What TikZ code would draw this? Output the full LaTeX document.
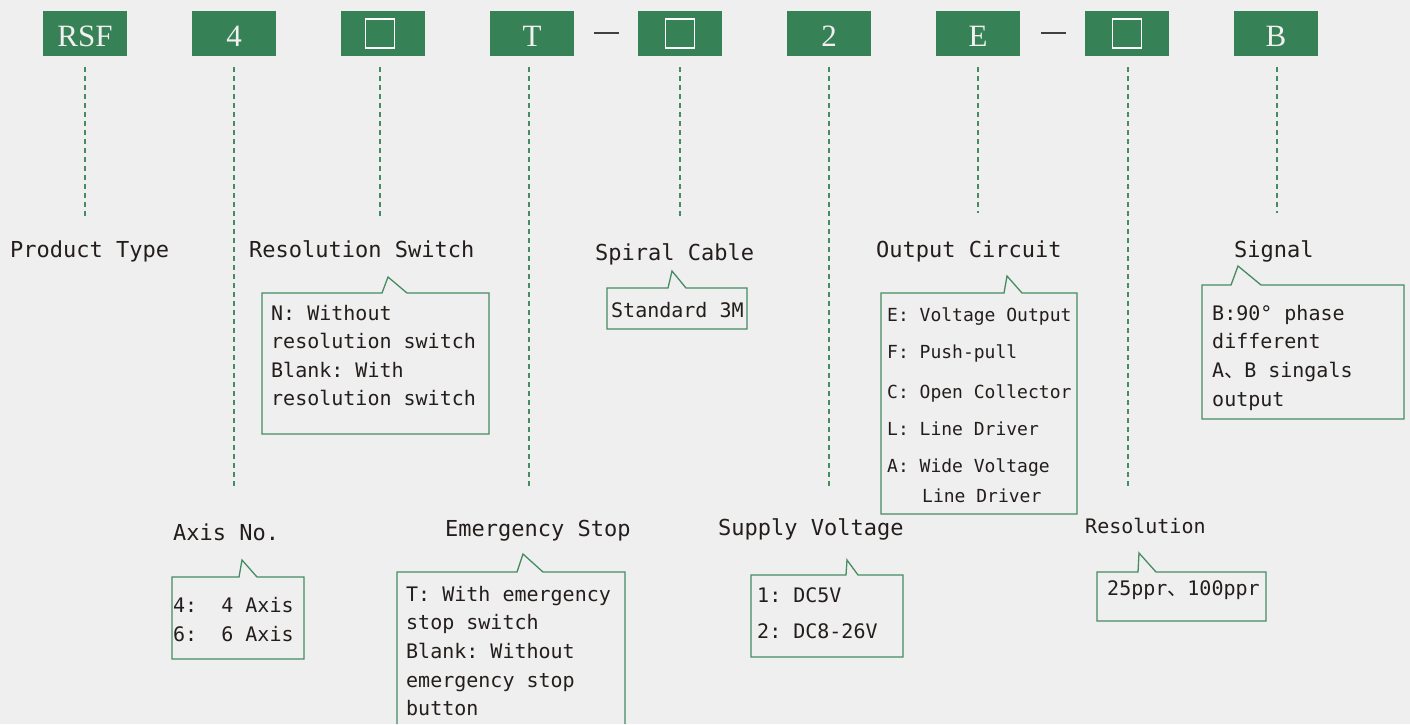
\documentclass[tikz,border=0pt]{standalone}
\usepackage{fontspec}
\setmainfont{Liberation Serif}
\setmonofont{DejaVu Sans Mono}
\newfontfamily\cjk{Noto Sans CJK SC}
\definecolor{codegreen}{RGB}{55,129,86}
\definecolor{linegreen}{RGB}{70,140,98}
\definecolor{paper}{RGB}{239,239,239}
\definecolor{ink}{RGB}{35,30,28}

\begin{document}
\begin{tikzpicture}[x=1pt, y=-1pt,
  codigo/.style={fill=codegreen, minimum width=84pt, minimum height=45pt,
                 inner sep=0pt, text=white!94!black, text height=25pt, text depth=0pt,
                 font=\fontsize{31}{31}\selectfont},
  cuadro/.style={draw=white, line width=1.8pt, minimum size=29pt, inner sep=0pt},
  guion/.style={fill=black!75, minimum width=25pt, minimum height=1.5pt, inner sep=0pt},
  guia/.style={draw=linegreen, line width=1.2pt, dash pattern=on 5pt off 4pt},
  titulo/.style={anchor=base west, inner sep=0pt, text=ink,
                 font=\ttfamily\fontsize{22}{22}\selectfont},
  opcion/.style={anchor=base west, inner sep=0pt, text=ink,
                 font=\ttfamily\fontsize{20}{20}\selectfont},
  opcionp/.style={opcion, font=\ttfamily\fontsize{18}{18}\selectfont},
  globo/.style={draw=linegreen, line width=1.3pt},
]
  \fill[paper, use as bounding box] (0,0) rectangle (1410,724);

  % Casillas del código
  \node[codigo] (rsf)    at (85,33.5)   {RSF};
  \node[codigo] (ejes)   at (234,33.5)  {4};
  \node[codigo] (resol)  at (383,33.5)  {};
  \node[codigo] (paro)   at (532,33.5)  {T};
  \node[codigo] (cable)  at (680,33.5)  {};
  \node[codigo] (volt)   at (829,33.5)  {2};
  \node[codigo] (salida) at (978,33.5)  {E};
  \node[codigo] (ppr)    at (1127,33.5) {};
  \node[codigo] (senal)  at (1276,33.5) {B};
  \node[cuadro] (cresol) at ([xshift=-3pt]resol.center) {};
  \node[cuadro] (ccable) at (cable.center) {};
  \node[cuadro] (cppr)   at (ppr.center) {};
  \node[guion] (guion1) at (606,33) {};
  \node[guion] (guion2) at (1053,33) {};

  % Líneas guía punteadas
  \foreach \n/\x/\fin in {rsf/85/220, ejes/234/487, resol/380/220, paro/529/487,
                          cable/680/220, volt/829/489, salida/978/213, ppr/1128/489, senal/1277/213} {
    \coordinate (g\n) at (\x,\fin);
    \draw[guia] (\n.south -| g\n) ++(0,11) -- (g\n);
  }

  % Product Type
  \node[titulo] (tprod) at (10,257) {Product Type};

  % Resolution Switch
  \node[titulo] (tres) at (249,257) {Resolution Switch};
  \draw[globo] (262,293) -- (382,293) -- (388,277) -- (407,293) -- (489,293) -- (489,434) -- (262,434) -- cycle;
  \foreach \t [count=\i from 0] in {N: Without, resolution switch, Blank: With, resolution switch}
    \node[opcion] (ores\i) at (271,{320+28.6*\i}) {\t};

  % Axis No.
  \node[titulo] (tejes) at (173,540) {Axis No.};
  \draw[globo] (172,577) -- (239,577) -- (242,560) -- (257,577) -- (304,577) -- (304,659) -- (172,659) -- cycle;
  \node[opcion] (oejes1) at (173,612) {4:\ \ 4 Axis};
  \node[opcion] (oejes2) at (173,641) {6:\ \ 6 Axis};

  % Emergency Stop
  \node[titulo] (tparo) at (445,536) {Emergency Stop};
  \draw[globo] (397,724) -- (397,572) -- (517,572) -- (523,554) -- (543,572) -- (625,572) -- (625,724);
  \foreach \t [count=\i from 0] in {T: With emergency, stop switch, Blank: Without, emergency stop, button}
    \node[opcion] (oparo\i) at (406,{601+28.7*\i}) {\t};

  % Spiral Cable
  \node[titulo] (tcable) at (595,260) {Spiral Cable};
  \draw[globo] (607,288) -- (668,288) -- (672,271) -- (686,288) -- (747,288) -- (747,329) -- (607,329) -- cycle;
  \node[opcion] (ocable) at (611,317) {Standard 3M};

  % Output Circuit
  \node[titulo] (tsal) at (876,257) {Output Circuit};
  \draw[globo] (881,293) -- (1004,293) -- (1007,276) -- (1022,293) -- (1077,293) -- (1077,514) -- (881,514) -- cycle;
  \foreach \t/\y [count=\i] in {E: Voltage Output/321, F: Push-pull/358, C: Open Collector/398,
                                L: Line Driver/435, A: Wide Voltage/472}
    \node[opcionp] (osal\i) at (887,\y) {\t};
  \node[opcionp] (osal6) at (922,502) {Line Driver};

  % Supply Voltage
  \node[titulo] (tvolt) at (718,535) {Supply Voltage};
  \draw[globo] (751,575) -- (846,575) -- (847,560) -- (858,575) -- (903,575) -- (903,657) -- (751,657) -- cycle;
  \node[opcion] (ovolt1) at (757,602) {1: DC5V};
  \node[opcion] (ovolt2) at (757,638) {2: DC8-26V};

  % Resolution
  \node[titulo, font=\ttfamily\fontsize{20}{20}\selectfont] (tppr) at (1085,533) {Resolution};
  \draw[globo] (1097,572) -- (1138,572) -- (1139,553) -- (1156,572) -- (1266,572) -- (1266,621) -- (1097,621) -- cycle;
  \node[opcion] (oppr) at (1107,595) {25ppr{\cjk 、}100ppr};

  % Signal
  \node[titulo] (tsen) at (1234,257) {Signal};
  \draw[globo] (1202,285) -- (1231,285) -- (1238,266) -- (1261,285) -- (1404,285) -- (1404,419) -- (1202,419) -- cycle;
  \foreach \t [count=\i from 0] in {B:90° phase, different, A{\cjk 、}B singals, output}
    \node[opcion] (osen\i) at (1212,{320+28.7*\i}) {\t};
\end{tikzpicture}
\end{document}
